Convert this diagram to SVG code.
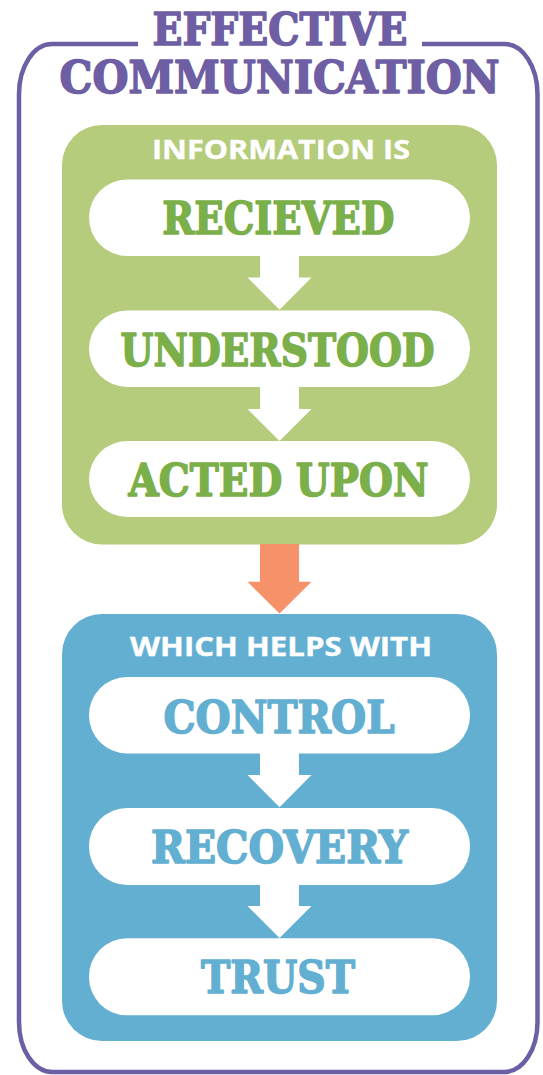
<svg xmlns="http://www.w3.org/2000/svg" width="543" height="1075" viewBox="0 0 543 1075">
  <style>
    .title { font-family: "DejaVu Serif", "Liberation Serif", serif; font-weight: bold; fill: #6E5EA3; stroke: #6E5EA3; stroke-width: 1.6px; stroke-linejoin: round; text-anchor: middle; }
    .slab { font-family: "DejaVu Serif", "Liberation Serif", serif; font-weight: bold; font-size: 45px; text-anchor: middle; stroke-width: 1.6px; stroke-linejoin: round; }
    .g { fill: #7AAF4A; stroke: #7AAF4A; }
    .b { fill: #62AFD2; stroke: #62AFD2; }
    .head { font-family: "Open Sans", "Liberation Sans", sans-serif; font-weight: bold; font-size: 27px; fill: #ffffff; stroke: #ffffff; stroke-width: 0.4px; text-anchor: middle; }
    .pill { fill: #ffffff; }
    .wArrow { fill: #ffffff; }
  </style>
  <rect width="543" height="1075" fill="#ffffff"/>

  <g id="frame">
    <path d="M138,44 H52 A33,50 0 0 0 19,94 V1022 A33,50 0 0 0 52,1072 H504.5 A33,50 0 0 0 537.5,1022 V94 A33,50 0 0 0 504.5,44 H422" fill="none" stroke="#6E5EA3" stroke-width="4.5"/>
    <text class="title" x="280" y="45" font-size="44" textLength="255" lengthAdjust="spacingAndGlyphs">EFFECTIVE</text>
    <text class="title" x="279.5" y="93" font-size="45" textLength="440" lengthAdjust="spacingAndGlyphs">COMMUNICATION</text>
  </g>

  <g id="group-information">
    <rect x="62" y="125" width="435" height="419.5" rx="40" ry="40" fill="#B4CC7C"/>
    <text class="head" x="281" y="159.3" textLength="258" lengthAdjust="spacingAndGlyphs">INFORMATION IS</text>
  </g>

  <g id="group-helps">
    <rect x="62" y="614" width="435" height="427" rx="40" ry="40" fill="#62AFD2"/>
    <text class="head" x="281" y="656" textLength="302" lengthAdjust="spacingAndGlyphs">WHICH HELPS WITH</text>
  </g>

  <g id="connectors">
    <path class="wArrow" d="M260,250 H299 V277.5 H311.5 L279.5,309.8 L247.5,277.5 H260 Z"/>
    <path class="wArrow" d="M260,380 H299 V409 H311.5 L279.5,441 L247.5,409 H260 Z"/>
    <path fill="#F5926A" d="M260,544 H299 V581.7 H311.5 L279.5,613.5 L247.5,581.7 H260 Z"/>
    <path class="wArrow" d="M260,748 H299 V775 H311.5 L279.5,807.2 L247.5,775 H260 Z"/>
    <path class="wArrow" d="M260,880 H299 V906 H311.5 L279.5,938 L247.5,906 H260 Z"/>
  </g>

  <g id="node-recieved">
    <rect class="pill" x="89" y="179.5" width="381" height="76.5" rx="38" ry="38"/>
    <text class="slab g" x="278.3" y="234.3" textLength="232" lengthAdjust="spacingAndGlyphs">RECIEVED</text>
  </g>
  <g id="node-understood">
    <rect class="pill" x="89" y="310.5" width="381" height="76.5" rx="38" ry="38"/>
    <text class="slab g" x="277.5" y="366" textLength="314" lengthAdjust="spacingAndGlyphs">UNDERSTOOD</text>
  </g>
  <g id="node-acted-upon">
    <rect class="pill" x="89" y="441" width="381" height="76" rx="38" ry="38"/>
    <text class="slab g" x="278.5" y="496" textLength="300" lengthAdjust="spacingAndGlyphs">ACTED UPON</text>
  </g>
  <g id="node-control">
    <rect class="pill" x="89" y="677" width="381" height="76.5" rx="38" ry="38"/>
    <text class="slab b" x="279" y="732.7" textLength="231" lengthAdjust="spacingAndGlyphs">CONTROL</text>
  </g>
  <g id="node-recovery">
    <rect class="pill" x="89" y="808" width="381" height="77" rx="38" ry="38"/>
    <text class="slab b" x="279.5" y="863.3" textLength="257" lengthAdjust="spacingAndGlyphs">RECOVERY</text>
  </g>
  <g id="node-trust">
    <rect class="pill" x="89" y="938.3" width="381" height="77" rx="38" ry="38"/>
    <text class="slab b" x="278" y="992.7" textLength="154" lengthAdjust="spacingAndGlyphs">TRUST</text>
  </g>
</svg>
